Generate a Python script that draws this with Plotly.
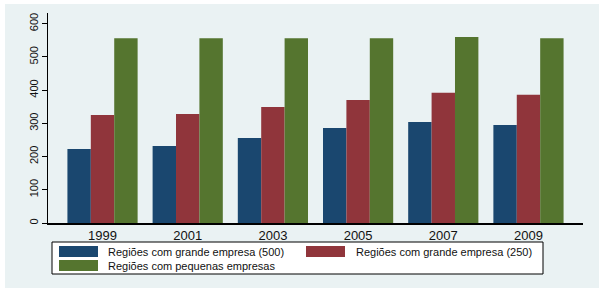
import plotly.graph_objects as go

years = ["1999", "2001", "2003", "2005", "2007", "2009"]
series_names = [
    "Regiões com grande empresa (500)",
    "Regiões com grande empresa (250)",
    "Regiões com pequenas empresas",
]
grande_500 = [223, 232, 256, 286, 304, 295]
grande_250 = [325, 328, 349, 370, 392, 386]
pequenas = [556, 556, 556, 556, 560, 556]
y_ticks = [0, 100, 200, 300, 400, 500, 600]

colors = ["#1A476F", "#90353B", "#55752F"]
BG = "#EAF2F3"

W, H = 604, 292
L, R, T, B = 48, 21, 13, 69
PW, PH = W - L - R, H - T - B


def px(x):
    return (x - L) / PW


def py(y):
    return (H - B - y) / PH


fig = go.Figure()
for name, vals, c in zip(series_names, [grande_500, grande_250, pequenas], colors):
    fig.add_trace(go.Bar(x=years, y=vals, name=name, marker=dict(color=c, line=dict(width=0)),
                         showlegend=False))

shapes = [
    dict(type="rect", xref="paper", yref="paper", x0=px(5), x1=px(599), y0=py(288), y1=py(4),
         fillcolor=BG, line=dict(width=0), layer="below"),
    dict(type="rect", xref="paper", yref="paper", x0=px(52), x1=px(543), y0=py(274), y1=py(242),
         fillcolor="white", line=dict(color="black", width=1)),
]
annotations = []
legend_pos = [(59, 106, 246), (306, 354, 246), (59, 106, 260)]
for (sx, tx, sy), name, c in zip(legend_pos, series_names, colors):
    shapes.append(dict(type="rect", xref="paper", yref="paper", x0=px(sx), x1=px(sx + 39),
                       y0=py(sy + 11), y1=py(sy), fillcolor=c, line=dict(width=0)))
    annotations.append(dict(xref="paper", yref="paper", x=px(tx), y=py(sy + 5.5), text=name,
                            showarrow=False, xanchor="left", yanchor="middle",
                            font=dict(family="Liberation Sans, Arial", size=11, color="#111")))

fig.update_layout(
    width=W, height=H,
    margin=dict(l=L, r=R, t=T, b=B),
    paper_bgcolor="white",
    plot_bgcolor="white",
    barmode="group",
    bargap=0.176,
    bargroupgap=0,
    shapes=shapes,
    annotations=annotations,
    font=dict(family="Liberation Sans, Arial", color="#111"),
    xaxis=dict(
        type="category",
        range=[-0.64, 5.64],
        showline=True, linecolor="black", linewidth=1.5,
        ticks="", showgrid=False,
        tickfont=dict(size=13, color="#111"),
    ),
    yaxis=dict(
        range=[0, 632],
        tickvals=y_ticks,
        ticktext=[str(v) for v in y_ticks],
        tickangle=-90,
        ticks="outside", ticklen=5, tickcolor="black",
        showline=True, linecolor="black", linewidth=1,
        showgrid=True, gridcolor=BG, gridwidth=1,
        zeroline=False,
        tickfont=dict(size=11, color="#111"),
    ),
)

fig.write_html("out.html", config={"displayModeBar": False},
               post_script="document.body.style.margin='0';")
